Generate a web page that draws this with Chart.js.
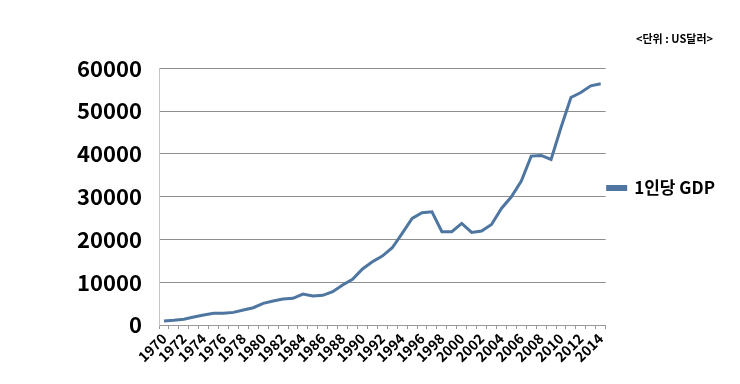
<!DOCTYPE html>
<html>
<head>
<meta charset="utf-8">
<script src="https://cdn.jsdelivr.net/npm/chart.js@4"></script>
<style>
  html, body { margin: 0; padding: 0; background: #fff; }
  #wrap { width: 740px; height: 384px; position: relative; }
</style>
</head>
<body>
<div id="wrap"><canvas id="c" width="740" height="384"></canvas></div>
<script>
const years = ['1970','1971','1972','1973','1974','1975','1976','1977','1978','1979',
  '1980','1981','1982','1983','1984','1985','1986','1987','1988','1989',
  '1990','1991','1992','1993','1994','1995','1996','1997','1998','1999',
  '2000','2001','2002','2003','2004','2005','2006','2007','2008','2009',
  '2010','2011','2012','2013','2014'];
const gdpPerCapita = [930, 1090, 1330, 1870, 2330, 2720, 2720, 2950, 3500, 4040,
  5060, 5600, 6070, 6230, 7240, 6770, 6930, 7780, 9340, 10670,
  13100, 14780, 16110, 18050, 21400, 24900, 26250, 26450, 21800, 21800,
  23740, 21640, 21950, 23500, 27240, 29960, 33620, 39460, 39620, 38680,
  46150, 53160, 54330, 55880, 56350];
const seriesName = '1인당 GDP';
const unitNote = '<단위 : US달러>';
const yTicks = [0, 10000, 20000, 30000, 40000, 50000, 60000];

const FONT = '"Noto Sans CJK KR", "Noto Sans", sans-serif';
const lineColor = '#4e76a0';

const boxShift = {
  id: 'boxShift',
  afterLayout(chart) {
    const lg = chart.legend;
    if (lg) { lg.top -= 4; lg.bottom -= 4; }
    const tb = chart.titleBlock;
    if (tb) { tb.right -= 12; }
  }
};

new Chart(document.getElementById('c'), {
  type: 'line',
  data: {
    labels: years,
    datasets: [{
      label: seriesName,
      data: gdpPerCapita,
      borderColor: lineColor,
      backgroundColor: lineColor,
      borderWidth: 3,
      pointRadius: 0,
      tension: 0,
      fill: false
    }]
  },
  options: {
    responsive: false,
    animation: false,
    devicePixelRatio: 1,
    layout: { padding: { left: 0, right: 15, top: 0, bottom: 0 } },
    plugins: {
      title: {
        display: true,
        text: unitNote,
        align: 'end',
        color: '#000',
        font: { family: FONT, size: 11, weight: 'bold', lineHeight: 1.2 },
        padding: { top: 32, bottom: 23 }
      },
      legend: {
        display: true,
        position: 'right',
        align: 'center',
        labels: {
          boxWidth: 18,
          boxHeight: 3,
          padding: 2,
          color: '#000',
          font: { family: FONT, size: 17, weight: 'bold' }
        }
      },
      tooltip: { enabled: false }
    },
    scales: {
      x: {
        type: 'category',
        offset: true,
        grid: {
          display: true,
          drawOnChartArea: false,
          drawTicks: true,
          tickLength: 4,
          color: '#999',
          offset: true
        },
        border: { display: true, color: '#999', width: 1 },
        ticks: {
          autoSkip: false,
          maxRotation: 45,
          minRotation: 45,
          padding: 1,
          color: '#000',
          font: { family: FONT, size: 14, weight: 'bold' },
          callback: function(v, i) { return i % 2 === 0 ? years[i] : ''; }
        },
        afterFit(scale) { scale.height = 59; }
      },
      y: {
        min: 0,
        max: 60000,
        afterBuildTicks(scale) { scale.ticks = yTicks.map(v => ({ value: v })); },
        grid: { color: '#8e8e8e', drawTicks: false, lineWidth: 1 },
        border: { display: true, color: '#c4c4c4', width: 1 },
        ticks: {
          padding: 17,
          color: '#000',
          font: { family: FONT, size: 22, weight: 'bold' },
          callback: function(v) { return String(v); }
        },
        afterFit(scale) { scale.width = 159; }
      }
    }
  },
  plugins: [boxShift]
});
</script>
</body>
</html>
